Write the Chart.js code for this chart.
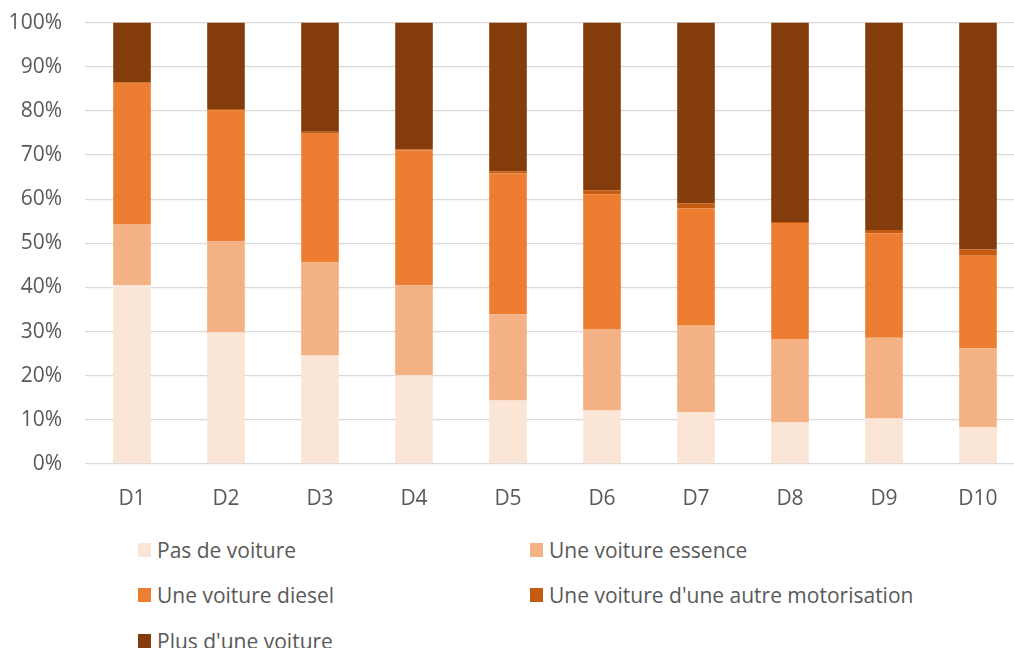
<!DOCTYPE html>
<html>
<head>
<meta charset="utf-8">
<script src="https://cdn.jsdelivr.net/npm/chart.js@4"></script>
<style>
  html, body { margin: 0; padding: 0; background: #fff; overflow: hidden; }
  #wrap { position: absolute; left: 0; top: -13px; width: 1030px; height: 533px; }
  #legend {
    position: absolute; left: 138px; top: 527px;
    display: grid; grid-template-columns: 392px 392px; grid-auto-rows: 45.5px;
    font-family: "Open Sans", sans-serif; font-size: 21px; color: #595959;
  }
  #legend .item { display: flex; align-items: center; }
  #legend .box { width: 13px; height: 14px; margin-right: 6px; }
</style>
</head>
<body>
<div id="wrap"><canvas id="c" width="1030" height="533"></canvas></div>
<div id="legend"></div>
<script>
const categories = ['D1', 'D2', 'D3', 'D4', 'D5', 'D6', 'D7', 'D8', 'D9', 'D10'];

// parts en %
const pasDeVoiture = [40.5, 29.8, 24.6, 20.1, 14.4, 12.1, 11.8, 9.4, 10.3, 8.3];
const voitureEssence = [13.9, 20.6, 21.1, 20.4, 19.5, 18.5, 19.7, 18.9, 18.3, 17.9];
const voitureDiesel = [31.9, 29.7, 29.1, 30.5, 31.9, 30.5, 26.4, 26.3, 23.6, 21.0];
const autreMotorisation = [0.2, 0.3, 0.5, 0.3, 0.5, 0.9, 1.2, 0.2, 0.8, 1.4];
const plusDUneVoiture = [13.5, 19.6, 24.7, 28.7, 33.7, 38.0, 40.9, 45.2, 47.0, 51.4];

const seriesLabels = ['Pas de voiture', 'Une voiture essence', 'Une voiture diesel',
  "Une voiture d'une autre motorisation", "Plus d'une voiture"];
const colours = ['#FBE5D6', '#F4B183', '#ED7D31', '#C55A11', '#843C0C'];
const series = [pasDeVoiture, voitureEssence, voitureDiesel, autreMotorisation, plusDUneVoiture];

const font = { family: '"Open Sans", sans-serif', size: 21 };

let chart = new Chart(document.getElementById('c'), {
  type: 'bar',
  data: {
    labels: categories,
    datasets: series.map((d, i) => ({
      label: seriesLabels[i],
      data: d,
      backgroundColor: colours[i],
      borderWidth: 0,
      categoryPercentage: 1,
      barPercentage: 0.4
    }))
  },
  options: {
    responsive: false,
    animation: false,
    layout: { padding: { top: 9, right: 5, left: 0, bottom: 0 } },
    plugins: { legend: { display: false }, tooltip: { enabled: false } },
    scales: {
      x: {
        stacked: true,
        grid: { display: false },
        border: { display: false },
        ticks: { color: '#595959', font: font, padding: 14 },
        afterFit: (s) => { s.height = 56; }
      },
      y: {
        stacked: true,
        min: 0, max: 100,
        grid: { color: '#d9d9d9', lineWidth: 1.3, drawTicks: false },
        border: { display: false },
        ticks: { stepSize: 10, color: '#595959', font: font, padding: 23,
                 callback: v => v + '%' },
        afterFit: (s) => { s.width = 85; }
      }
    }
  }
});

// légende sur deux colonnes
const leg = document.getElementById('legend');
chart.data.datasets.forEach(ds => {
  const item = document.createElement('div');
  item.className = 'item';
  item.innerHTML = '<span class="box" style="background:' + ds.backgroundColor + '"></span><span>' + ds.label + '</span>';
  leg.appendChild(item);
});
</script>
</body>
</html>
